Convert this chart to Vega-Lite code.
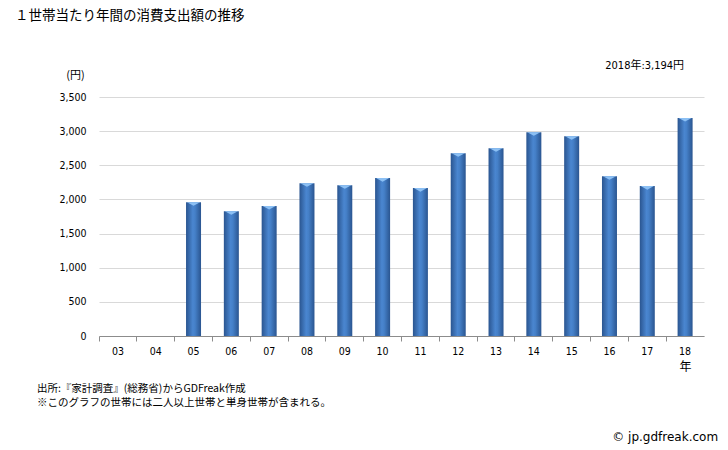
{
  "$schema": "https://vega.github.io/schema/vega-lite/v6.json",
  "width": 605,
  "height": 239,
  "autosize": "none",
  "padding": {"left": 99, "top": 97, "right": 24, "bottom": 114},
  "background": "white",
  "config": {
    "view": {"stroke": null},
    "font": "Noto Sans CJK JP"
  },
  "title": {
    "text": "１世帯当たり年間の消費支出額の推移",
    "anchor": "start",
    "frame": "group",
    "dx": -84,
    "dy": 2,
    "fontSize": 13.5,
    "fontWeight": "normal",
    "font": "Noto Sans CJK JP",
    "color": "#000000",
    "offset": 40
  },
  "datasets": {
    "main": [
      {"year": "03", "value": null},
      {"year": "04", "value": null},
      {"year": "05", "value": 1960},
      {"year": "06", "value": 1827},
      {"year": "07", "value": 1905},
      {"year": "08", "value": 2237},
      {"year": "09", "value": 2208},
      {"year": "10", "value": 2312},
      {"year": "11", "value": 2166},
      {"year": "12", "value": 2677},
      {"year": "13", "value": 2750},
      {"year": "14", "value": 2985},
      {"year": "15", "value": 2927},
      {"year": "16", "value": 2340},
      {"year": "17", "value": 2195},
      {"year": "18", "value": 3194}
    ],
    "notes": [
      {"year": "18", "value": 3500, "t": "2018年:3,194円"}
    ],
    "footer": [
      {"year": "03", "value": 0, "t": ["出所:『家計調査』(総務省)からGDFreak作成", "※このグラフの世帯には二人以上世帯と単身世帯が含まれる。"]}
    ],
    "copy": [
      {"year": "18", "value": 0, "t": "© jp.gdfreak.com"}
    ]
  },
  "encoding": {
    "x": {
      "field": "year",
      "type": "ordinal",
      "scale": {"domain": ["03","04","05","06","07","08","09","10","11","12","13","14","15","16","17","18"], "paddingInner": 0, "paddingOuter": 0},
      "axis": {
        "title": "年",
        "titleFontWeight": "normal",
        "titleFontSize": 12,
        "titleFont": "Noto Sans CJK JP",
        "titleX": 586,
        "titleY": 30,
        "titleAlign": "center",
        "titleBaseline": "middle",
        "labelAngle": 0,
        "labelFont": "DejaVu Sans Condensed, sans-serif",
        "labelFontSize": 10.5,
        "labelColor": "#000000",
        "labelPadding": 5,
        "bandPosition": 0,
        "domainColor": "#8c8c8c",
        "tickColor": "#8c8c8c",
        "tickSize": 5,
        "grid": false
      }
    },
    "y": {
      "field": "value",
      "type": "quantitative",
      "scale": {"domain": [0, 3500], "nice": false},
      "axis": {
        "title": "(円)",
        "titleAngle": 0,
        "titleFontWeight": "normal",
        "titleFontSize": 11,
        "titleFont": "Noto Sans CJK JP",
        "titleX": -24,
        "titleY": -22,
        "titleAlign": "center",
        "titleBaseline": "middle",
        "values": [0, 500, 1000, 1500, 2000, 2500, 3000, 3500],
        "format": ",.0f",
        "labelOverlap": false,
        "labelFont": "DejaVu Sans Condensed, sans-serif",
        "labelFontSize": 10.5,
        "labelColor": "#000000",
        "labelPadding": 13,
        "domain": false,
        "ticks": false,
        "grid": true,
        "gridColor": "#d9d9d9",
        "gridWidth": 1
      }
    }
  },
  "layer": [
    {
      "data": {"name": "main"},
      "mark": {
        "type": "bar",
        "size": 15,
        "fill": {
          "gradient": "linear",
          "x1": 0, "x2": 1, "y1": 0, "y2": 0,
          "stops": [
            {"offset": 0, "color": "#2a5590"},
            {"offset": 0.45, "color": "#4a86d0"},
            {"offset": 0.6, "color": "#4580c8"},
            {"offset": 1, "color": "#2a5590"}
          ]
        }
      }
    },
    {
      "data": {"name": "main"},
      "mark": {
        "type": "point",
        "shape": "M-1,0L1,0L0,0.55Z",
        "filled": true,
        "fill": "#8cc0f4",
        "opacity": 1,
        "strokeWidth": 0,
        "size": 169
      }
    },
    {
      "data": {"name": "notes"},
      "mark": {
        "type": "text",
        "align": "right",
        "baseline": "middle",
        "fontSize": 11,
        "font": "DejaVu Sans Condensed, Noto Sans CJK JP",
        "color": "#000000",
        "dx": -1,
        "dy": -31
      },
      "encoding": {
        "text": {"field": "t"}
      }
    },
    {
      "data": {"name": "footer"},
      "mark": {
        "type": "text",
        "align": "left",
        "baseline": "middle",
        "fontSize": 10.5,
        "lineHeight": 14,
        "font": "Noto Sans CJK JP",
        "color": "#000000",
        "dx": -81,
        "dy": 53
      },
      "encoding": {
        "text": {"field": "t"}
      }
    },
    {
      "data": {"name": "copy"},
      "mark": {
        "type": "text",
        "align": "right",
        "baseline": "middle",
        "fontSize": 12,
        "font": "DejaVu Sans",
        "color": "#000000",
        "dx": 33,
        "dy": 101
      },
      "encoding": {
        "text": {"field": "t"}
      }
    }
  ]
}
